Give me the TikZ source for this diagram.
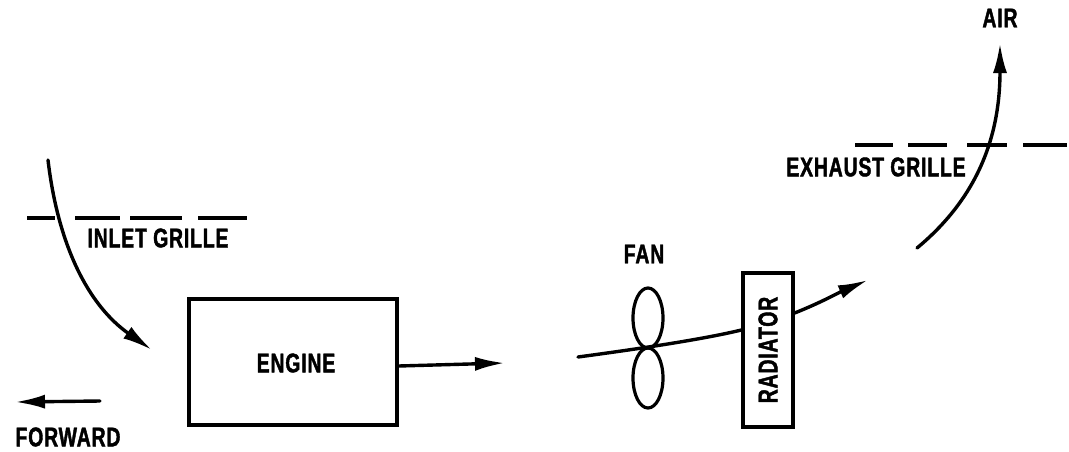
\documentclass[tikz,border=0pt]{standalone}
\usepackage{fontspec}
\setmainfont{Liberation Sans}[FakeStretch=0.72,LetterSpace=3,BoldFeatures={FakeBold=1.5}]
\usetikzlibrary{arrows.meta}
\begin{document}
\begin{tikzpicture}[x=1pt,y=-1pt,
  lab/.style={font=\bfseries\fontsize{27}{27}\selectfont, inner sep=0pt},
  ln/.style={line width=3.4pt, line cap=round},
  arr/.style={ln, -{Latex[length=30pt,width=14pt]}},
  grille/.style={line width=3.2pt},
  box/.style={draw, line width=3.2pt, fill=white}]
\useasboundingbox (0,0) rectangle (1069,451);
% grilles
\draw[grille] (27,218) -- (55,218) (75,218) -- (120,218) (130,218) -- (182,218) (198,218) -- (247,218);
\draw[grille] (855,145) -- (893,145) (908,145) -- (947,145) (967,145) -- (1007,145) (1023,145) -- (1067,145);
\node[lab] (inlet) at (158,238) {INLET GRILLE};
\node[lab] (exhaust) at (876,167) {EXHAUST GRILLE};
\node[lab] (air) at (1000,18) {AIR};
\node[lab] (fanlab) at (644,254) {FAN};
\node[lab] (fwd) at (68,437) {FORWARD};
% engine
\node[box, minimum width=208pt, minimum height=126pt, inner sep=0pt] (engine) at (293,362) {};
\node[lab] (englab) at (296,363) {ENGINE};
% radiator
\node[box, minimum width=50pt, minimum height=154pt, inner sep=0pt] (rad) at (768,350) {};
\node[lab, rotate=90] (radlab) at (768,350) {RADIATOR};
% fan
\draw[line width=3.2pt] (648,318) ellipse [x radius=15, y radius=30];
\draw[line width=3.2pt] (648,378) ellipse [x radius=15, y radius=30];
% coordinates
\coordinate (inS) at (48,160);
\coordinate (inE) at (152,350);
\coordinate (engE) at (505,363);
\coordinate (fS) at (578,357);
\coordinate (fE) at (868,280);
\coordinate (exS) at (917,248);
\coordinate (exE) at (1000,43);
\coordinate (fwdS) at (100,401);
\coordinate (fwdE) at (15,402);
% flows
\draw[arr] (inS) .. controls (58,245) and (88,305) .. (inE);
\draw[arr] (engine.east |- 0,366) -- (engE);
\draw[ln] (fS) .. controls (630,350) and (700,340) .. (rad.west |- 0,330);
\draw[arr] (rad.east |- 0,313) .. controls (820,303) and (840,292) .. (fE);
\draw[arr] (exS) .. controls (975,200) and (1000,140) .. (exE);
\draw[arr] (fwdS) -- (fwdE);
\end{tikzpicture}
\end{document}
